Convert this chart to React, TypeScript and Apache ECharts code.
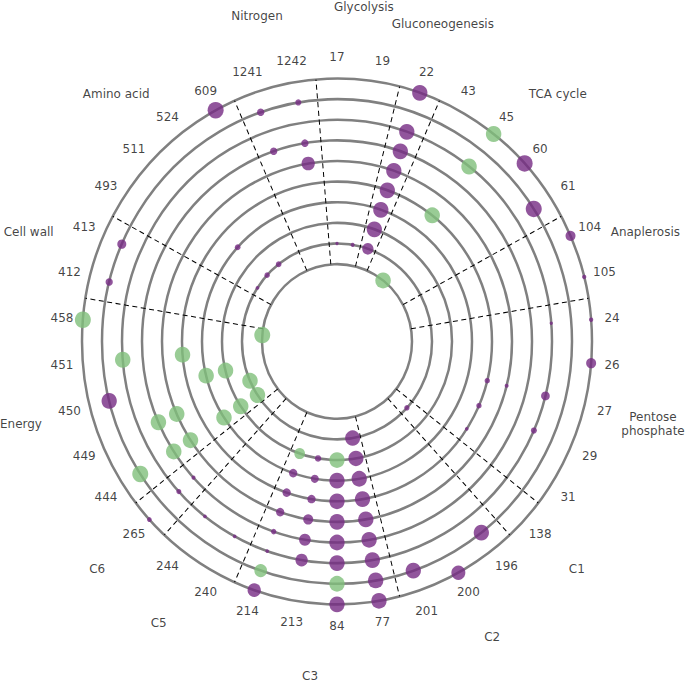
import React, { useEffect, useRef } from 'react';
import * as echarts from 'echarts';

// Reaction IDs placed clockwise from the top
const reactionIds = ['17', '19', '22', '43', '45', '60', '61', '104', '105', '24', '26', '27', '29', '31', '138', '196', '200', '201', '77', '84', '213', '214', '240', '244', '265', '444', '449', '450', '451', '458', '412', '413', '493', '511', '524', '609', '1241', '1242'];

// Pathway groups (consecutive reactions)
const pathwayNames = ['Glycolysis', 'Gluconeogenesis', 'TCA cycle', 'Anaplerosis', 'Pentose\nphosphate', 'C1', 'C2', 'C3', 'C5', 'C6', 'Energy', 'Cell wall', 'Amino acid', 'Nitrogen'];
const pathwaySizes = [2, 1, 4, 2, 5, 1, 3, 4, 2, 1, 5, 2, 4, 2];

// Rings from innermost (0) to outermost (9): [reaction, value]
// positive = purple, negative = green, magnitude = marker size
const ring0: [string, number][] = [['45', -15.5], ['458', -16]];
const ring1: [string, number][] = [['17', 3.3], ['19', 4], ['22', 11.3], ['138', 5.3], ['77', 15], ['444', -15.5], ['449', -15.5], ['493', 3.7], ['511', 5.3], ['524', 5.7]];
const ring2: [string, number][] = [['22', 15.3], ['77', 15], ['84', -15.3], ['213', 6.3], ['214', -10.7], ['444', -15.5], ['450', -15.5]];
const ring3: [string, number][] = [['22', 15.3], ['77', 15.3], ['84', 15.3], ['213', 8], ['214', 8.3], ['444', -15.5], ['450', -15.5], ['511', 5.7]];
const ring4: [string, number][] = [['22', 15.3], ['45', -15.5], ['27', 5.3], ['29', 5.3], ['31', 3.7], ['77', 15.3], ['84', 15.3], ['213', 8.3], ['214', 8.3], ['451', -15.5]];
const ring5: [string, number][] = [['22', 15.3], ['27', 4], ['77', 15.3], ['84', 15.3], ['213', 10], ['214', 8.3], ['444', -15.5], ['449', -15.5], ['1242', 13.3]];
const ring6: [string, number][] = [['22', 15.3], ['77', 15.3], ['84', 15.3], ['213', 11.7], ['214', 5.3], ['265', 4], ['444', -15.5], ['449', -15.5], ['1241', 7.3], ['1242', 7.3]];
const ring7: [string, number][] = [['22', 15.3], ['45', -15.5], ['24', 3.3], ['27', 8.7], ['29', 6], ['77', 15.3], ['84', 15.3], ['213', 12.3], ['214', 3.7], ['240', 3.7], ['244', 3.7], ['265', 5], ['451', -15.5]];
const ring8: [string, number][] = [['61', 16], ['196', 15.3], ['201', 15.3], ['77', 15.3], ['84', -15.3], ['214', -12.7], ['444', -16], ['450', 15.3], ['412', 7.3], ['413', 9], ['1241', 7.3], ['1242', 6]];
const ring9: [string, number][] = [['22', 15.3], ['45', -15.5], ['60', 16], ['104', 10], ['105', 4.3], ['24', 4.3], ['26', 10], ['200', 14], ['77', 15.3], ['84', 15.3], ['214', 13.3], ['265', 4.7], ['458', -16], ['609', 16]];

const rings = [ring0, ring1, ring2, ring3, ring4, ring5, ring6, ring7, ring8, ring9];

const PURPLE = '#762a83';
const GREEN = '#7fbf7b';
const FONT = 'DejaVu Sans';

export default function App() {
  const ref = useRef<HTMLDivElement>(null);

  useEffect(() => {
    if (!ref.current) return;
    const chart = echarts.init(ref.current, null, { renderer: 'svg' });

    const points: any[] = [];
    rings.forEach((ring, k) => {
      ring.forEach(([id, v]) => {
        points.push({
          value: [k, reactionIds.indexOf(id)],
          symbolSize: Math.abs(v),
          itemStyle: { color: v > 0 ? PURPLE : GREEN },
        });
      });
    });

    const boundaries: number[] = [];
    const pathwayCenters: number[] = [];
    let start = 0;
    pathwaySizes.forEach((n) => {
      pathwayCenters.push(start + (n - 1) / 2);
      start += n;
      boundaries.push(start - 0.5);
    });

    const dashSeries = boundaries.map((b) => ({
      type: 'line',
      coordinateSystem: 'polar',
      data: [[0, b], [11, b]],
      symbol: 'none',
      clip: false,
      silent: true,
      z: 1,
      lineStyle: { color: '#000', width: 1, type: [5, 3.5] },
    }));

    const labelStyle = {
      show: true,
      position: 'inside',
      formatter: '{b}',
      fontSize: 12,
      fontFamily: FONT,
      color: '#111',
      lineHeight: 13,
    };

    chart.setOption({
      animation: false,
      polar: { center: [337, 331.2], radius: [75, 255] },
      angleAxis: {
        type: 'value',
        min: 0,
        max: reactionIds.length,
        startAngle: 90,
        clockwise: true,
        axisLine: { show: false },
        axisTick: { show: false },
        axisLabel: { show: false },
        splitLine: { show: false },
      },
      radiusAxis: {
        type: 'value',
        min: 0,
        max: 9,
        interval: 1,
        axisLine: { show: false },
        axisTick: { show: false },
        axisLabel: { show: false },
        splitLine: { show: true, lineStyle: { color: '#808080', width: 2.5 } },
      },
      series: [
        ...dashSeries,
        {
          type: 'scatter',
          coordinateSystem: 'polar',
          data: points,
          clip: false,
          silent: true,
          z: 3,
        },
        {
          type: 'scatter',
          coordinateSystem: 'polar',
          data: reactionIds.map((id, i) => ({ name: id, value: [10.05, i] })),
          symbolSize: 0,
          clip: false,
          silent: true,
          label: labelStyle,
        },
        {
          type: 'scatter',
          coordinateSystem: 'polar',
          data: pathwayNames.map((name, i) => ({ name, value: [12.55, pathwayCenters[i]] })),
          symbolSize: 0,
          clip: false,
          silent: true,
          label: labelStyle,
        },
      ],
    });

    return () => chart.dispose();
  }, []);

  return (
    <div
      ref={ref}
      style={{
        position: 'absolute',
        left: 0,
        top: 0,
        width: 685,
        height: 661,
        transform: 'scaleY(1.031)',
        transformOrigin: '0 0',
      }}
    />
  );
}
